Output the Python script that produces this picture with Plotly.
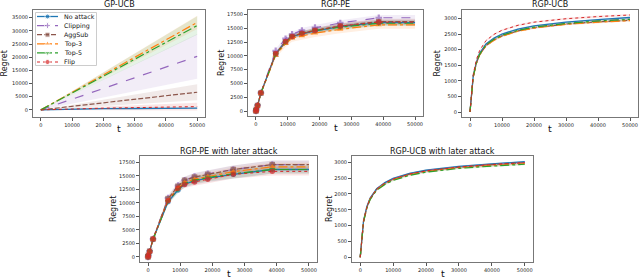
import plotly.graph_objects as go

W, H = 640, 279

names = ["No attack", "Clipping", "AggSub", "Top-3", "Top-5", "Flip"]
colors = ["#1f77b4", "#9467bd", "#8c564b", "#ff7f0e", "#2ca02c", "#d62728"]
rgb = ["31,119,180", "148,103,189", "140,86,75", "255,127,14", "44,160,44", "214,39,40"]
dashes = ["solid", "dash", "5px,2px", "dashdot", "dashdot", "dot"]
widths = [1.3, 1.2, 1.2, 1.2, 1.2, 1.0]
symbols = ["circle", "cross", "square", "triangle-up", "triangle-down", "circle"]

# ---------- GP-UCB ----------
gp_x = [0, 10000, 20000, 30000, 40000, 50000]
gp_mean = {
    "No attack": [0, 350, 450, 520, 580, 640],
    "Clipping": [0, 4100, 8150, 12200, 16250, 20300],
    "AggSub": [0, 1350, 2700, 4000, 5350, 6700],
    "Top-3": [0, 6650, 13300, 19900, 26550, 33200],
    "Top-5": [0, 6400, 12800, 19200, 25600, 32000],
    "Flip": [0, 400, 650, 850, 1050, 1250],
}
gp_std = {
    "No attack": [0, 80, 100, 120, 140, 150],
    "Clipping": [0, 1700, 3400, 5100, 6800, 8500],
    "AggSub": [0, 600, 1200, 1800, 2400, 3000],
    "Top-3": [0, 500, 1000, 1500, 2000, 2500],
    "Top-5": [0, 700, 1400, 2100, 2800, 3500],
    "Flip": [0, 300, 600, 900, 1200, 1500],
}

# ---------- RGP-PE ----------
pe_x = [0, 100, 500, 1550, 6200, 9300, 11350, 14450, 18550, 26500, 38600, 50000]
pe_mean = {
    "No attack": [0, 280, 1000, 3250, 10400, 12600, 13500, 14000, 14500, 15300, 16000, 16000],
    "Clipping": [0, 300, 1050, 3300, 10900, 13100, 13900, 14600, 15100, 15950, 16900, 16900],
    "AggSub": [0, 280, 1000, 3250, 10300, 12500, 13500, 14000, 14600, 15400, 16200, 16200],
    "Top-3": [0, 250, 950, 3200, 10100, 12200, 13200, 13600, 14100, 14800, 15600, 15600],
    "Top-5": [0, 270, 1000, 3250, 10300, 12500, 13500, 14100, 14600, 15200, 15900, 15900],
    "Flip": [0, 280, 1000, 3300, 10400, 12600, 13500, 14100, 14600, 15400, 16100, 16100],
}
pe_std = {
    "No attack": [0, 50, 100, 200, 300, 350, 400, 400, 450, 500, 500, 500],
    "Clipping": [0, 50, 100, 200, 350, 400, 450, 450, 500, 500, 500, 500],
    "AggSub": [0, 50, 100, 200, 300, 350, 400, 400, 450, 500, 500, 500],
    "Top-3": [0, 60, 150, 300, 500, 600, 650, 650, 700, 700, 700, 700],
    "Top-5": [0, 50, 100, 200, 300, 350, 400, 400, 450, 500, 500, 500],
    "Flip": [0, 50, 100, 200, 300, 350, 400, 400, 450, 500, 500, 500],
}

# ---------- RGP-UCB ----------
ucb_x = [0, 500, 1000, 2000, 3000, 5000, 7500, 10000, 15000, 20000, 30000, 40000, 50000]
ucb_mean = {
    "No attack": [0, 700, 1150, 1600, 1880, 2180, 2370, 2500, 2660, 2760, 2880, 2960, 3030],
    "Clipping": [0, 690, 1130, 1570, 1850, 2150, 2330, 2460, 2620, 2720, 2840, 2920, 2980],
    "AggSub": [0, 680, 1120, 1560, 1830, 2130, 2310, 2440, 2600, 2700, 2820, 2890, 2940],
    "Top-3": [0, 680, 1110, 1550, 1830, 2120, 2300, 2430, 2590, 2690, 2810, 2880, 2930],
    "Top-5": [0, 690, 1130, 1570, 1850, 2150, 2330, 2460, 2620, 2720, 2840, 2920, 2970],
    "Flip": [0, 720, 1200, 1680, 1970, 2290, 2490, 2620, 2780, 2880, 2990, 3060, 3110],
}
ucb_std = [0, 15, 20, 25, 25, 30, 30, 30, 30, 30, 30, 30, 30]

# ---------- RGP-PE with later attack ----------
pel_mean = {
    "No attack": [0, 270, 1000, 3250, 10200, 12400, 13500, 14100, 14600, 15300, 16200, 16200],
    "Clipping": [0, 300, 1050, 3300, 10900, 13200, 14200, 14900, 15400, 16200, 17100, 17100],
    "AggSub": [0, 300, 1050, 3300, 10800, 13100, 14200, 14800, 15300, 16200, 17100, 17100],
    "Top-3": [0, 280, 1000, 3250, 10500, 12800, 13800, 14400, 14900, 15800, 16700, 16700],
    "Top-5": [0, 270, 1000, 3250, 10300, 12500, 13600, 14200, 14700, 15400, 16200, 16200],
    "Flip": [0, 280, 1000, 3300, 10400, 12700, 13400, 13900, 14400, 15300, 15850, 15850],
}
pel_std = [0, 60, 150, 300, 500, 600, 650, 700, 700, 750, 750, 750]

# ---------- RGP-UCB with later attack ----------
ucbl_mean = {
    "No attack": [0, 700, 1150, 1600, 1870, 2170, 2360, 2490, 2650, 2750, 2870, 2950, 3020],
    "Clipping": [0, 690, 1130, 1570, 1850, 2150, 2340, 2470, 2630, 2730, 2850, 2930, 2990],
    "AggSub": [0, 690, 1130, 1570, 1850, 2150, 2340, 2470, 2630, 2730, 2850, 2930, 2990],
    "Top-3": [0, 685, 1120, 1560, 1840, 2140, 2320, 2450, 2610, 2710, 2830, 2900, 2960],
    "Top-5": [0, 680, 1110, 1550, 1820, 2120, 2300, 2430, 2590, 2690, 2810, 2880, 2940],
    "Flip": [0, 690, 1130, 1580, 1850, 2150, 2340, 2470, 2630, 2730, 2850, 2930, 2990],
}
ucbl_std = [0, 15, 20, 25, 25, 30, 30, 30, 30, 30, 30, 30, 30]

titles = ["GP-UCB", "RGP-PE", "RGP-UCB", "RGP-PE with later attack", "RGP-UCB with later attack"]
x_tick_vals = [0, 10000, 20000, 30000, 40000, 50000]

# panel boxes in pixels: (left, right, top, bottom)
boxes = [(33, 205, 10, 117), (248, 423, 10, 116), (462, 638, 10, 117),
         (140, 317, 156, 262), (352, 533, 156, 262)]
yranges = [[-2700, 37900], [-900, 18300], [-160, 3270], [-950, 18700], [-150, 3200]]
ydticks = [5000, 2500, 500, 2500, 500]
ymaxtick = [35000, 17500, 3000, 17500, 3000]
ylabel_x = [4, 221, 437, 113, 329]

fig = go.Figure()


def add_series(ax, x, mean, std, show_markers, std_is_dict=True):
    xa = "x" if ax == 1 else f"x{ax}"
    ya = "y" if ax == 1 else f"y{ax}"
    for i, n in enumerate(names):
        s = std[n] if std_is_dict else std
        up = [m + d for m, d in zip(mean[n], s)]
        lo = [m - d for m, d in zip(mean[n], s)]
        fig.add_trace(go.Scatter(x=x + x[::-1], y=up + lo[::-1], fill="toself",
                                 fillcolor=f"rgba({rgb[i]},0.12)", line=dict(width=0),
                                 mode="lines", hoverinfo="skip", showlegend=False,
                                 xaxis=xa, yaxis=ya))
    for i, n in enumerate(names):
        msize = [5.5] * (len(x) - 1) + [0] if show_markers else None
        fig.add_trace(go.Scatter(x=x, y=mean[n], mode="lines+markers" if show_markers else "lines",
                                 line=dict(color=colors[i], width=widths[i], dash=dashes[i]),
                                 marker=dict(symbol=symbols[i], size=msize, color=colors[i],
                                             line=dict(width=0)),
                                 showlegend=False, name=n, xaxis=xa, yaxis=ya))


add_series(1, gp_x, gp_mean, gp_std, False)
add_series(2, pe_x, pe_mean, pe_std, True)
add_series(3, ucb_x, ucb_mean, ucb_std, False, std_is_dict=False)
add_series(4, pe_x, pel_mean, pel_std, True, std_is_dict=False)
add_series(5, ucb_x, ucbl_mean, ucbl_std, False, std_is_dict=False)

layout = dict(width=W, height=H, margin=dict(l=0, r=0, t=0, b=0, autoexpand=False),
              paper_bgcolor="white", plot_bgcolor="white",
              font=dict(family="DejaVu Sans", color="#222"), showlegend=False)
annotations = []
tickfont = dict(family="DejaVu Sans", size=5, color="#222")
for k, (l, r, t, b) in enumerate(boxes):
    idx = "" if k == 0 else str(k + 1)
    xd = [l / W, r / W]
    yd = [1 - b / H, 1 - t / H]
    layout["xaxis" + idx] = dict(domain=xd, range=[-2500, 52500], anchor="y" + idx,
                                 tickvals=x_tick_vals, ticktext=[str(v) for v in x_tick_vals],
                                 showline=True, mirror=True, linecolor="#777", linewidth=1,
                                 ticks="outside", ticklen=3, tickcolor="#555", automargin=False,
                                 showgrid=False, zeroline=False, tickfont=tickfont)
    tv = list(range(0, ymaxtick[k] + 1, ydticks[k]))
    layout["yaxis" + idx] = dict(domain=yd, range=yranges[k], anchor="x" + idx,
                                 tickvals=tv, ticktext=[str(v) for v in tv],
                                 showline=True, mirror=True, linecolor="#777", linewidth=1,
                                 ticks="outside", ticklen=3, tickcolor="#555", automargin=False,
                                 showgrid=False, zeroline=False, tickfont=tickfont)
    annotations.append(dict(text=titles[k], x=(l + r) / 2 / W, y=1 - (t - 5) / H,
                            xref="paper", yref="paper", xanchor="center", yanchor="middle",
                            showarrow=False, font=dict(size=8, color="#111")))
    annotations.append(dict(text="t", x=(l + r) / 2 / W, y=1 - (b + 11.5) / H,
                            xref="paper", yref="paper", xanchor="center", yanchor="middle",
                            showarrow=False, font=dict(size=9.5, color="#111")))
    annotations.append(dict(text="Regret", x=ylabel_x[k] / W, y=1 - (t + b) / 2 / H,
                            xref="paper", yref="paper", xanchor="center", yanchor="middle",
                            textangle=-90, showarrow=False, font=dict(size=8, color="#111")))

# ---------- manual legend inset in GP-UCB ----------
lg_l, lg_r, lg_t, lg_b = 35, 97, 12, 66
layout["xaxis6"] = dict(domain=[lg_l / W, lg_r / W], range=[0, lg_r - lg_l], visible=False,
                        anchor="y6", fixedrange=True, automargin=False)
layout["yaxis6"] = dict(domain=[1 - lg_b / H, 1 - lg_t / H], range=[lg_b - lg_t, 0],
                        visible=False, anchor="x6", fixedrange=True, automargin=False)
shapes = [dict(type="rect", xref="x6", yref="y6", x0=0.5, x1=lg_r - lg_l - 0.5, y0=0.5,
               y1=lg_b - lg_t - 0.5, line=dict(color="#ccc", width=1),
               fillcolor="rgba(255,255,255,0.85)", layer="below")]
for i, n in enumerate(names):
    yy = 4.5 + 9.1 * i
    fig.add_trace(go.Scatter(x=[2, 12.5, 23], y=[yy, yy, yy], mode="lines+markers",
                             line=dict(color=colors[i], width=widths[i], dash=dashes[i]),
                             marker=dict(symbol=symbols[i], size=[0, 5, 0], color=colors[i]),
                             xaxis="x6", yaxis="y6", hoverinfo="skip", showlegend=False))
    annotations.append(dict(text=n, x=27, y=yy, xref="x6", yref="y6", xanchor="left",
                            yanchor="middle", showarrow=False, font=dict(size=6.3, color="#111")))

layout["annotations"] = annotations
layout["shapes"] = shapes
fig.update_layout(**layout)
fig.write_html("out.html", config={"displayModeBar": False})

# remove the default page margin so the figure sits at the window's top-left corner
with open("out.html", "r", encoding="utf-8") as f:
    html = f.read()
html = html.replace("<head>", "<head><style>html,body{margin:0;padding:0;overflow:hidden;}</style>", 1)
with open("out.html", "w", encoding="utf-8") as f:
    f.write(html)
